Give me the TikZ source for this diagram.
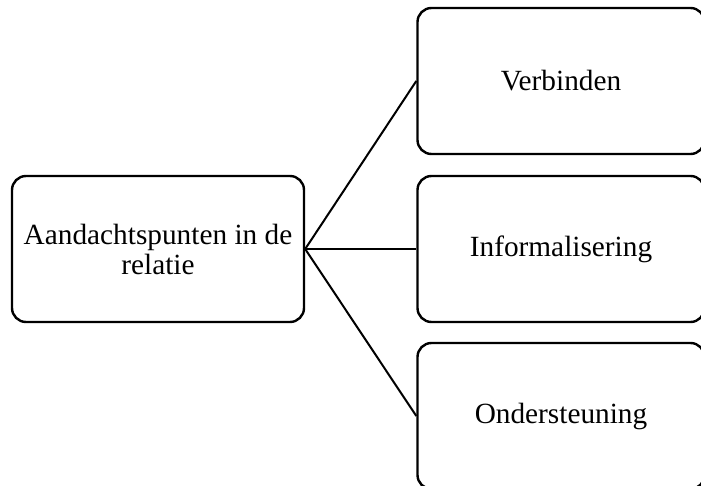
\documentclass[tikz,border=0pt]{standalone}
\usepackage{fontspec}
\setmainfont{Liberation Serif}
\begin{document}
\begin{tikzpicture}[x=1pt,y=-1pt,
  box/.style={draw=black, line width=2.4pt, rounded corners=14pt, minimum width=287pt, minimum height=146pt, align=center, font=\fontsize{29.3}{30}\selectfont, inner sep=0pt},
  link/.style={draw=black, line width=2pt}]
\useasboundingbox (0,0) rectangle (701,486);
\node[box, minimum width=292pt] (root) at (158,249) {Aandachtspunten in de\\relatie};
\node[box] (a) at (561,81) {Verbinden};
\node[box] (b) at (561,249) {Informalisering};
\node[box] (c) at (561,416) {Ondersteuning};
\draw[link] (root.east) -- (a.west);
\draw[link] (root.east) -- (b.west);
\draw[link] (root.east) -- (c.west);
\end{tikzpicture}
\end{document}
